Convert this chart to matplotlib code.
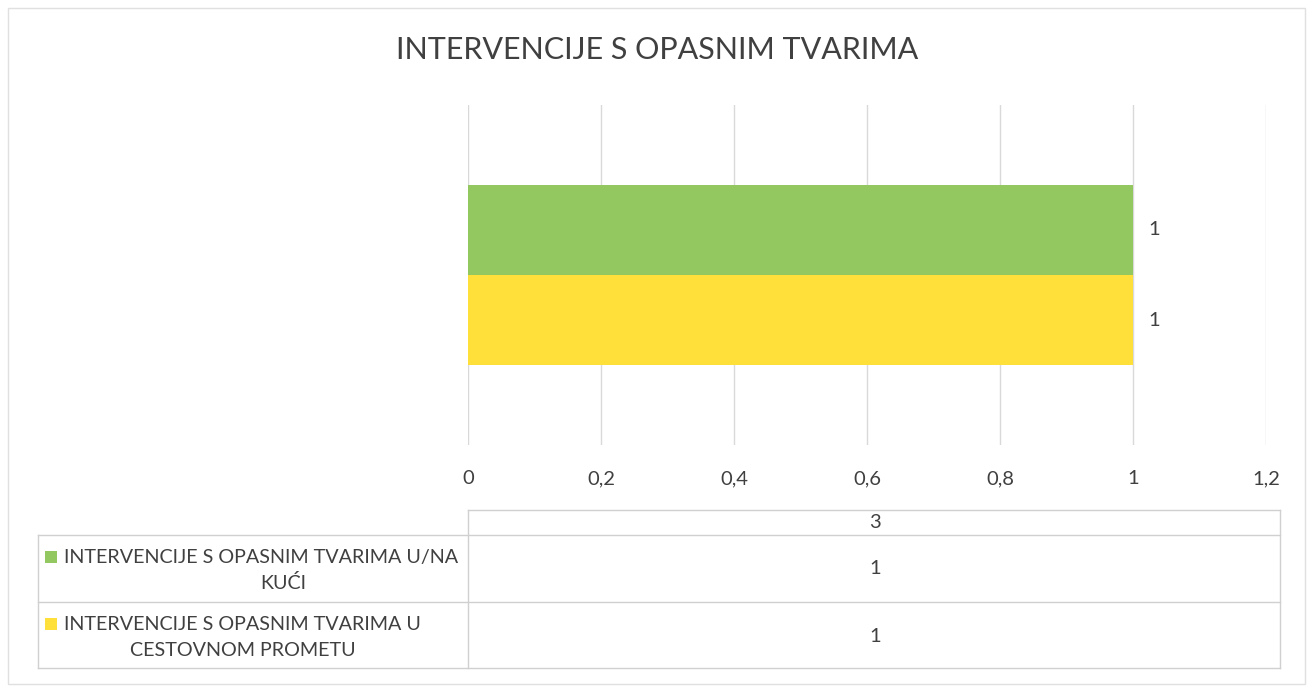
import matplotlib
matplotlib.use("Agg")
import matplotlib.pyplot as plt
from matplotlib.patches import Rectangle
from matplotlib.lines import Line2D

# chart data
title = "INTERVENCIJE S OPASNIM TVARIMA"
category = "3"
series_names = [
    ["INTERVENCIJE S OPASNIM TVARIMA U/NA", "KUĆI"],
    ["INTERVENCIJE S OPASNIM TVARIMA U", "CESTOVNOM PROMETU"],
]
series_values = [1, 1]
series_colors = ["#93C760", "#FFE03A"]
x_ticks = [0, 0.2, 0.4, 0.6, 0.8, 1.0, 1.2]
x_tick_labels = ["0", "0,2", "0,4", "0,6", "0,8", "1", "1,2"]

plt.rcParams["font.family"] = ["Lato", "DejaVu Sans"]
TXT = "#404040"
GRID = "#D9D9D9"
FS = 14.5

W, H = 1313, 691
fig = plt.figure(figsize=(W / 100, H / 100), dpi=100)

def fx(px):
    return px / W

def fy(py):
    return 1 - py / H

# outer chart border
fig.add_artist(Rectangle((fx(8), fy(684)), fx(1297), 676 / H, transform=fig.transFigure,
                         fill=False, edgecolor="#E0E0E0", lw=1))

fig.text(fx(657), fy(50), title, ha="center", va="center", fontsize=22, color=TXT)

ax = fig.add_axes([fx(468), fy(445), fx(1266) - fx(468), (445 - 105) / H])
bar_h = 0.265
offsets = [bar_h / 2, -bar_h / 2]
for val, off, col in zip(series_values, offsets, series_colors):
    bars = ax.barh([0 + off], [val], height=bar_h, color=col, edgecolor="none", zorder=2)
    ax.bar_label(bars, labels=[str(val)], padding=11, fontsize=FS, color=TXT)

ax.set_xlim(0, 1.2)
ax.set_ylim(-0.5, 0.5)
ax.set_xticks(x_ticks)
ax.set_xticklabels(x_tick_labels, fontsize=FS, color=TXT)
ax.set_yticks([])
ax.tick_params(axis="x", length=0, pad=18)
ax.grid(axis="x", color=GRID, lw=1, zorder=0)
for s in ax.spines.values():
    s.set_visible(False)

# data table under the chart
def hline(x0, x1, y):
    fig.add_artist(Line2D([fx(x0), fx(x1)], [fy(y), fy(y)], transform=fig.transFigure,
                          color="#D0D0D0", lw=1))

def vline(x, y0, y1):
    fig.add_artist(Line2D([fx(x), fx(x)], [fy(y0), fy(y1)], transform=fig.transFigure,
                          color="#D0D0D0", lw=1))

hline(468, 1280, 510)
for y in [535, 602, 668]:
    hline(38, 1280, y)
vline(38, 535, 668)
vline(468, 510, 668)
vline(1280, 510, 668)

fig.text(fx(875), fy(522), category, ha="center", va="center", fontsize=FS, color=TXT)

row_tops = [535, 602]
line2_centers = [283, 243]
for name, val, col, top, c2 in zip(series_names, series_values, series_colors, row_tops, line2_centers):
    mid = top + 34
    fig.add_artist(Rectangle((fx(45), fy(top + 28)), fx(12), 12 / H, transform=fig.transFigure,
                             facecolor=col, edgecolor="none"))
    fig.text(fx(64), fy(top + 22), name[0], ha="left", va="center", fontsize=14.2, color=TXT)
    fig.text(fx(c2), fy(top + 48), name[1], ha="center", va="center", fontsize=14.2, color=TXT)
    fig.text(fx(875), fy(mid), str(val), ha="center", va="center", fontsize=FS, color=TXT)

fig.savefig("out.png", dpi=100)
